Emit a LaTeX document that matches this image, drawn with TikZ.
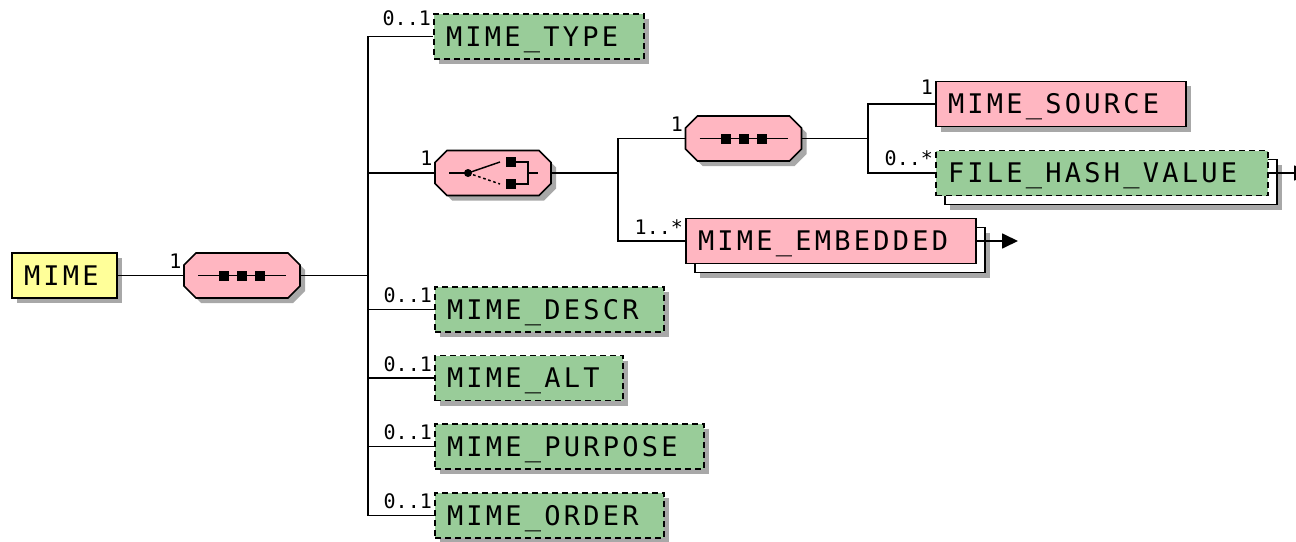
\documentclass[tikz,border=0pt]{standalone}
\usepackage{fontspec}
\usepackage{tikz}
\usetikzlibrary{calc,shadows,arrows.meta}
\newfontfamily\boxfont[LetterSpace=12]{DejaVu Sans Mono}
\newfontfamily\cardfont{DejaVu Sans Mono}
\definecolor{elempink}{RGB}{255,182,193}
\definecolor{elemgreen}{RGB}{153,204,153}
\definecolor{elemyellow}{RGB}{255,255,153}
\definecolor{shadowgray}{RGB}{168,168,168}
\tikzset{
	shd/.style={drop shadow={shadow xshift=3.75pt,shadow yshift=-3.75pt,fill=shadowgray,opacity=1}},
	elem/.style={draw=black,line width=1.3pt,rectangle,inner xsep=9pt,inner ysep=0pt,minimum height=33.75pt,align=left,text height=14.8pt,text depth=0pt,font=\boxfont\fontsize{20.25}{24}\selectfont},
	root/.style={elem,fill=elemyellow,shd},
	req/.style={elem,fill=elempink},
	opt/.style={elem,fill=elemgreen,dash pattern=on 4.5pt off 3pt},
	stackback/.style={elem,fill=white,shd},
	grp/.style={rectangle,minimum width=87pt,minimum height=33.75pt,inner sep=0pt},
	grpline/.style={draw=black,line width=1.3pt,fill=elempink,shd},
	card/.style={font=\cardfont\fontsize{15}{18}\selectfont,inner sep=0pt,anchor=base east},
	wire/.style={line width=1.3pt}
}
\begin{document}
\begin{tikzpicture}[x=0.75pt,y=-0.75pt]
\path[use as bounding box,fill=white] (0,0) rectangle (1296,542);
\node[root,text width=60.75pt] (mime) at (64.5,275.5) {MIME};
\node[grp] (seq1) at (242,275.5) {};
\node[grp] (choice) at (493,173) {};
\node[grp] (seq2) at (743.5,138.5) {};
\foreach \g in {seq1,choice,seq2}{
	\path[grpline] ($(\g)+(-46,-22.5)$) -- ($(\g)+(46,-22.5)$) -- ($(\g)+(58,-10.5)$) -- ($(\g)+(58,10.5)$)
		-- ($(\g)+(46,22.5)$) -- ($(\g)+(-46,22.5)$) -- ($(\g)+(-58,10.5)$) -- ($(\g)+(-58,-10.5)$) -- cycle;
	}
\node[req,shd,text width=169.5pt] (msource) at (1061,104) {MIME\_SOURCE};
\node[stackback,text width=231pt] (fhashback) at (1111,182) {};
\node[opt,text width=231pt] (fhash) at (1102,173) {FILE\_HASH\_VALUE};
\node[stackback,text width=199.5pt] (membedback) at (840,250) {};
\node[req,text width=199.5pt] (membed) at (831,241) {MIME\_EMBEDDED};
\node[opt,shd,text width=139.5pt] (mtype) at (539,36.5) {MIME\_TYPE};
\node[opt,shd,text width=153.75pt] (mdescr) at (549.5,309.5) {MIME\_DESCR};
\node[opt,shd,text width=123pt] (malt) at (529,378) {MIME\_ALT};
\node[opt,shd,text width=183.75pt] (mpurpose) at (569.5,446.5) {MIME\_PURPOSE};
\node[opt,shd,text width=153.75pt] (morder) at (549.5,515.5) {MIME\_ORDER};
\foreach \g in {seq1,seq2}{
	\draw[line width=1.1pt] ($(\g)+(-44,0)$) -- ($(\g)+(44,0)$);
	\foreach \dx in {-18,0,18}
		\fill ($(\g)+(\dx-5,-5)$) rectangle ($(\g)+(\dx+5,5)$);
	}
\begin{scope}[shift={(choice)},line width=1.1pt]
\draw (-44,0) -- (-25,0);
\fill (-25,0) circle (3pt);
\draw (-25,0) -- (7,-11);
\draw[dash pattern=on 2pt off 2pt] (-25,0) -- (7,11);
\fill (13,-16) rectangle (23,-6);
\fill (13,6) rectangle (23,16);
\draw (23,-11) -- (35,-11) -- (35,11) -- (23,11);
\draw (35,0) -- (45,0);
\end{scope}
\coordinate (j1) at (368,275.5);
\coordinate (j2) at (618,173);
\coordinate (j3) at (868,138.5);
\coordinate (fhashout) at (1310,173);
\coordinate (membedout) at (1018,241);
\draw[wire] (mime) -- ($(seq1)+(-58,0)$);
\draw[wire] ($(seq1)+(58,0)$) -- (j1);
\foreach \c in {mtype,mdescr,malt,mpurpose,morder}{
	\draw[wire] (j1) |- (\c.west);
	}
\draw[wire] (j1) |- ($(choice)+(-58,0)$);
\draw[wire] ($(choice)+(58,0)$) -- (j2);
\draw[wire] (j2) |- ($(seq2)+(-58,0)$);
\draw[wire] (j2) |- (membed.west);
\draw[wire] ($(seq2)+(58,0)$) -- (j3);
\draw[wire] (j3) |- (msource.west);
\draw[wire] (j3) |- (fhash.west);
\draw[wire,-{Triangle[length=12pt,width=11.25pt]}] (fhash.east) -- (fhashout);
\draw[wire,-{Triangle[length=12pt,width=11.25pt]}] (membed.east) -- (membedout);
\node[card] (cseq1) at ($(seq1.west)+(-2,-7)$) {1};
\node[card] (cchoice) at ($(choice.west)+(-2,-7)$) {1};
\node[card] (cseq2) at ($(seq2.west)+(-2,-7)$) {1};
\node[card] (cmsource) at ($(msource.west)+(-2,-10)$) {1};
\node[card] (cfhash) at ($(fhash.west)+(-2,-7)$) {0..*};
\node[card] (cmembed) at ($(membed.west)+(-2,-7)$) {1..*};
\node[card] (cmtype) at ($(mtype.west)+(-2,-11)$) {0..1};
\foreach \c in {mdescr,malt,mpurpose,morder}{
	\node[card] (c\c) at ($(\c.west)+(-2,-7)$) {0..1};
	}
\end{tikzpicture}
\end{document}
